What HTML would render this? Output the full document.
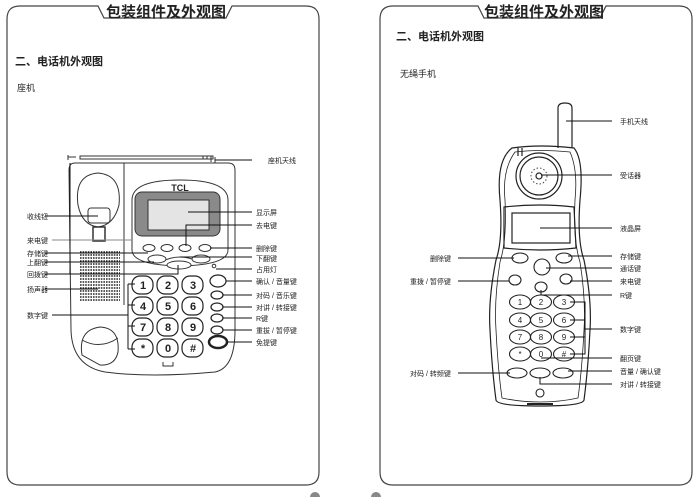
<!DOCTYPE html>
<html><head><meta charset="utf-8"><style>
html,body{margin:0;padding:0;background:#fff;width:698px;height:497px;overflow:hidden}
svg{display:block}
text{font-family:"Liberation Sans","Noto Sans CJK SC",sans-serif;fill:#222}
.l{font-size:7px}
.k{font-size:11px;font-weight:bold;text-anchor:middle}
.h{font-size:8px;text-anchor:middle}
</style></head><body>
<svg width="698" height="497" viewBox="0 0 698 497" xmlns="http://www.w3.org/2000/svg">
<g fill="none" stroke="#444" stroke-width="1.2">
<path d="M98,6 L20,6 Q7,6 7,19 L7,472 Q7,485 20,485 L306,485 Q319,485 319,472 L319,19 Q319,6 306,6 L232,6 L226,18 L104,18 Z"/>
<path d="M478,6 L393,6 Q380,6 380,19 L380,472 Q380,485 393,485 L679,485 Q692,485 692,472 L692,19 Q692,6 679,6 L606,6 L600,18 L484,18 Z"/>
</g>
<text x="106" y="17" style="font-size:15px;font-weight:bold">包装组件及外观图</text>
<text x="484" y="17" style="font-size:15px;font-weight:bold">包装组件及外观图</text>
<text x="15" y="65" style="font-size:11px;font-weight:bold">二、电话机外观图</text>
<text x="17" y="91" style="font-size:9px">座机</text>
<text x="396" y="40" style="font-size:11px;font-weight:bold">二、电话机外观图</text>
<text x="400" y="77" style="font-size:9px">无绳手机</text>

<!-- BASE PHONE -->
<g fill="none" stroke="#333" stroke-width="1">
<path d="M68,155 L68,160 M68,157 L76,157 M80,156 L213,156 L213,159 L80,159 Z"/>
<path d="M203,156 V159 M207,156 V159 M211,156 V162 M215,157 V163"/>
<path d="M75,163 L228,163 Q235,163 235,170 L235,330 Q235,368 215,372 Q150,378 105,372 Q72,366 71,330 L69,170 Q69,163 75,163 Z"/>
<line x1="124" y1="163" x2="124" y2="305"/>
<path d="M78,205 Q74,175 98,173 Q122,175 119,205 Q114,225 98,227 Q82,225 78,205 Z"/>
<rect x="88" y="208" width="22" height="15" rx="3"/>
<rect x="93" y="227" width="12" height="14" stroke-width="1.5"/>
<path d="M132,200 Q132,180 180,180 Q228,180 228,200 L228,250 Q228,265 180,266 Q132,265 132,250 Z"/>
<path d="M161,262 Q180,252 199,262"/>
<path d="M82,355 Q78,330 100,327 Q120,328 118,352 Q115,366 100,365 Z"/>
<path d="M82,340 Q100,350 118,338"/>
</g>
<text x="180" y="191" style="font-size:9px;font-weight:bold;text-anchor:middle">TCL</text>
<rect x="135" y="192" width="85" height="44" rx="7" fill="#8a8a8a" stroke="#333"/>
<rect x="148" y="200" width="61" height="30" fill="#e4e4e4" stroke="#333"/>
<rect x="80" y="251" width="40" height="52" fill="#fff"/>
<g stroke="#222" stroke-width="1.6" stroke-dasharray="1.6,1">
<path d="M80,252H120M80,255H120M80,258H120M80,261H120M80,264H120M80,267H120M80,270H120M80,273H120M80,276H120M80,279H120M80,282H120M80,285H120M80,288H120M80,291H120M80,294H120M80,297H120M80,300H120"/>
</g>
<g fill="#fff" stroke="#333">
<ellipse cx="149" cy="248" rx="6" ry="3.5"/><ellipse cx="167" cy="248" rx="6" ry="3.5"/>
<ellipse cx="185" cy="248" rx="6" ry="3.5"/><ellipse cx="205" cy="248" rx="6" ry="3.5"/>
<ellipse cx="157" cy="259" rx="9" ry="4"/><ellipse cx="201" cy="259" rx="9" ry="4"/>
<ellipse cx="179" cy="265" rx="12" ry="4"/>
</g>
<g fill="#fff" stroke="#222" stroke-width="1.2">
<rect x="132" y="276" width="21" height="18" rx="8"/><rect x="157" y="276" width="21" height="18" rx="8"/><rect x="182" y="276" width="21" height="18" rx="8"/>
<rect x="132" y="297" width="21" height="18" rx="8"/><rect x="157" y="297" width="21" height="18" rx="8"/><rect x="182" y="297" width="21" height="18" rx="8"/>
<rect x="132" y="318" width="21" height="18" rx="8"/><rect x="157" y="318" width="21" height="18" rx="8"/><rect x="182" y="318" width="21" height="18" rx="8"/>
<rect x="132" y="339" width="21" height="18" rx="8"/><rect x="157" y="339" width="21" height="18" rx="8"/><rect x="182" y="339" width="21" height="18" rx="8"/>
<ellipse cx="218" cy="281" rx="8" ry="6"/>
<ellipse cx="217" cy="295" rx="6" ry="4"/><ellipse cx="217" cy="307" rx="6" ry="4"/>
<ellipse cx="217" cy="318" rx="6" ry="4"/><ellipse cx="217" cy="330" rx="6" ry="4"/>
<ellipse cx="218" cy="342" rx="9" ry="6" stroke-width="2.5"/>
</g>
<text x="143" y="289" class="k">1</text><text x="168" y="289" class="k">2</text><text x="193" y="289" class="k">3</text>
<text x="143" y="310" class="k">4</text><text x="168" y="310" class="k">5</text><text x="193" y="310" class="k">6</text>
<text x="143" y="331" class="k">7</text><text x="168" y="331" class="k">8</text><text x="193" y="331" class="k">9</text>
<text x="143" y="352" class="k">*</text><text x="168" y="352" class="k">0</text><text x="193" y="352" class="k">#</text>
<path d="M163,362 V366 H173 V362" fill="none" stroke="#333"/>
<circle cx="214" cy="266" r="1.8" fill="none" stroke="#333"/>
<g stroke="#111" stroke-width="1" fill="none">
<path d="M215,160 H252"/>
<path d="M45,216 H98"/>
<path d="M52,240 H132" stroke="#888"/>
<path d="M45,253 H148"/>
<path d="M45,262 H154"/>
<path d="M45,274 H178 V265"/>
<path d="M45,289 H98"/>
<path d="M52,315 H128 M128,284 V349 M128,284 H135 M128,305 H135 M128,326 H135 M128,349 H135"/>
<path d="M70,163 V274"/>
<path d="M188,212 H252"/>
<path d="M186,246 V225 H252"/>
<path d="M210,248 H252"/>
<path d="M180,257 H252"/>
<path d="M216,269 H252"/>
<path d="M226,281 H252"/><path d="M223,295 H252"/><path d="M223,307 H252"/><path d="M223,318 H252"/><path d="M223,330 H252"/><path d="M227,342 H252"/>
</g>
<text x="27" y="219" class="l">收线钮</text><text x="27" y="243" class="l">来电键</text>
<text x="27" y="256" class="l">存储键</text><text x="27" y="265" class="l">上翻键</text>
<text x="27" y="277" class="l">回拨键</text><text x="27" y="292" class="l">扬声器</text>
<text x="27" y="318" class="l">数字键</text>
<text x="268" y="163" class="l">座机天线</text><text x="256" y="215" class="l">显示屏</text>
<text x="256" y="228" class="l">去电键</text><text x="256" y="251" class="l">删除键</text>
<text x="256" y="261" class="l">下翻键</text><text x="256" y="272" class="l">占用灯</text>
<text x="256" y="284" class="l">确认 / 音量键</text><text x="256" y="298" class="l">对码 / 音乐键</text>
<text x="256" y="310" class="l">对讲 / 转接键</text><text x="256" y="321" class="l">R键</text>
<text x="256" y="333" class="l">重拔 / 暂停键</text><text x="256" y="345" class="l">免提键</text>

<!-- HANDSET -->
<g fill="none" stroke="#222" stroke-width="1.2">
<path d="M558,148 V108 Q558,103 565,103 Q572,103 572,108 V148"/>
<path d="M512,148 Q540,144 574,148 Q584,160 580,200 Q577,240 584,260 Q592,300 590,330 Q588,370 584,400 Q583,406 540,406 Q497,406 496,400 Q492,370 490,330 Q488,300 496,260 Q503,240 500,200 Q496,160 512,148 Z"/>
<path d="M515,152 Q540,149 570,152 Q578,170 575,200 Q573,240 580,262 Q586,300 584,330 Q582,370 578,398 Q560,402 540,402 Q520,402 502,398 Q498,370 496,330 Q494,300 500,262 Q507,240 505,200 Q502,170 515,152 Z" stroke-width="0.8"/>
<path d="M518,148 V156 M522,148 V156"/>
<circle cx="539" cy="176" r="23"/><circle cx="539" cy="176" r="19"/>
<circle cx="539" cy="176" r="3"/>
<path d="M504,207 Q540,203 574,207 L576,248 Q540,252 504,248 Z"/>
<rect x="512" y="213" width="58" height="30"/>
<path d="M527,404 H553" stroke-width="2"/>
</g>
<g fill="none" stroke="#444" stroke-dasharray="1.5,2"><circle cx="539" cy="176" r="8"/></g>
<g fill="#fff" stroke="#222" stroke-width="1.1">
<ellipse cx="520" cy="258" rx="8" ry="5"/><ellipse cx="564" cy="258" rx="8" ry="5"/>
<circle cx="542" cy="267" r="8"/>
<ellipse cx="515" cy="280" rx="6" ry="5"/><ellipse cx="566" cy="279" rx="6" ry="5"/>
<ellipse cx="541" cy="287" rx="6" ry="5"/>
<ellipse cx="520" cy="302" rx="10.5" ry="7"/><ellipse cx="541" cy="302" rx="10.5" ry="7"/><ellipse cx="564" cy="302" rx="10.5" ry="7"/>
<ellipse cx="520" cy="320" rx="10.5" ry="7"/><ellipse cx="541" cy="320" rx="10.5" ry="7"/><ellipse cx="564" cy="320" rx="10.5" ry="7"/>
<ellipse cx="520" cy="337" rx="10.5" ry="7"/><ellipse cx="541" cy="337" rx="10.5" ry="7"/><ellipse cx="564" cy="337" rx="10.5" ry="7"/>
<ellipse cx="520" cy="354" rx="10.5" ry="7"/><ellipse cx="541" cy="354" rx="10.5" ry="7"/><ellipse cx="564" cy="354" rx="10.5" ry="7"/>
<ellipse cx="517" cy="373" rx="10" ry="5"/><ellipse cx="540" cy="373" rx="10" ry="5"/><ellipse cx="563" cy="373" rx="10" ry="5"/>
<circle cx="540" cy="393" r="4"/>
</g>
<text x="520" y="305" class="h">1</text><text x="541" y="305" class="h">2</text><text x="564" y="305" class="h">3</text>
<text x="520" y="323" class="h">4</text><text x="541" y="323" class="h">5</text><text x="564" y="323" class="h">6</text>
<text x="520" y="340" class="h">7</text><text x="541" y="340" class="h">8</text><text x="564" y="340" class="h">9</text>
<text x="520" y="357" class="h">*</text><text x="541" y="357" class="h">0</text><text x="564" y="357" class="h">#</text>
<g stroke="#111" stroke-width="1" fill="none">
<path d="M566,121 H612"/><path d="M541,175 H612"/><path d="M540,228 H612"/>
<path d="M568,256 H612"/><path d="M546,268 H612"/><path d="M570,281 H612"/>
<path d="M541,290 V295 H612"/>
<path d="M570,302 H585 V354 H570 M570,320 H585 M570,337 H585 M585,329 H612"/>
<path d="M541,358 H612"/><path d="M568,371 H612"/><path d="M540,377 V384 H612"/>
<path d="M458,258 H514"/><path d="M458,281 H509"/><path d="M458,373 H510"/>
</g>
<text x="620" y="124" class="l">手机天线</text><text x="620" y="178" class="l">受话器</text>
<text x="620" y="231" class="l">液晶屏</text><text x="620" y="259" class="l">存储键</text>
<text x="620" y="271" class="l">通话键</text><text x="620" y="284" class="l">来电键</text>
<text x="620" y="298" class="l">R键</text><text x="620" y="332" class="l">数字键</text>
<text x="620" y="361" class="l">翻页键</text><text x="620" y="374" class="l">音量 / 确认键</text>
<text x="620" y="387" class="l">对讲 / 转接键</text>
<text x="430" y="261" class="l">删除键</text><text x="410" y="284" class="l">重拨 / 暂停键</text>
<text x="410" y="376" class="l">对码 / 转频键</text>
<circle cx="315" cy="497" r="5" fill="#888"/><circle cx="376" cy="497" r="5" fill="#888"/>
</svg>
</body></html>
